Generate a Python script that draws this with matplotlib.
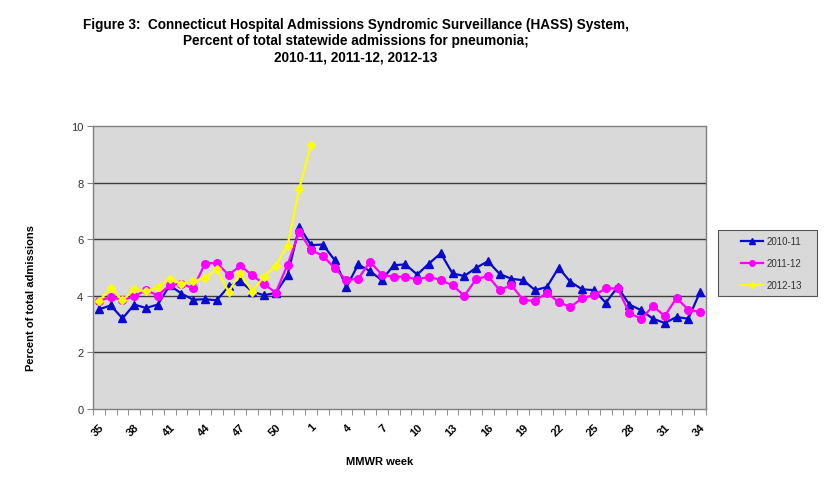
import matplotlib
matplotlib.use("Agg")
import matplotlib.pyplot as plt
from matplotlib.lines import Line2D
from matplotlib.patches import Rectangle

plt.rcParams['font.family'] = ['Liberation Sans', 'DejaVu Sans']

# MMWR weeks 35..52 then 1..34
weeks = list(range(35, 53)) + list(range(1, 35))

pct_2010_11 = [3.52, 3.66, 3.20, 3.69, 3.57, 3.69, 4.37, 4.08, 3.86, 3.88,
               3.84, 4.33, 4.52, 4.15, 4.02, 4.10, 4.73, 6.44, 5.79, 5.81,
               5.26, 4.31, 5.11, 4.87, 4.55, 5.08, 5.11, 4.75, 5.14, 5.50,
               4.79, 4.70, 4.99, 5.22, 4.77, 4.60, 4.55, 4.20, 4.31, 4.99,
               4.49, 4.23, 4.20, 3.75, 4.31, 3.69, 3.49, 3.19, 3.04, 3.25,
               3.19, 4.14]
pct_2011_12 = [3.81, 3.96, 3.85, 3.98, 4.20, 4.01, 4.37, 4.43, 4.26, 5.14,
               5.16, 4.74, 5.06, 4.73, 4.42, 4.11, 5.10, 6.26, 5.61, 5.42,
               4.97, 4.55, 4.61, 5.20, 4.75, 4.67, 4.68, 4.57, 4.68, 4.55,
               4.37, 4.00, 4.59, 4.70, 4.20, 4.38, 3.84, 3.83, 4.10, 3.78,
               3.60, 3.92, 4.02, 4.26, 4.26, 3.39, 3.19, 3.63, 3.29, 3.92,
               3.51, 3.43]
pct_2012_13 = [3.82, 4.26, 3.84, 4.23, 4.16, 4.31, 4.61, 4.43, 4.52, 4.63,
               4.94, 4.14, 4.80, 4.15, 4.68, 5.06, 5.77, 7.79, 9.34]

series_names = ['2010-11', '2011-12', '2012-13']
blue, magenta, yellow = '#0a0acc', '#ff00ff', '#ffff00'

fig = plt.figure(figsize=(8.32, 5.02), dpi=100)
ax = fig.add_axes([93 / 832, 92 / 502, 613 / 832, 283 / 502])
ax.set_facecolor('#d9d9d9')

x = list(range(len(weeks)))
ax.plot(x, pct_2010_11, color=blue, lw=1.6, marker='^', ms=5.5, zorder=3)
ax.plot(x, pct_2011_12, color=magenta, lw=1.6, marker='o', ms=5.5, zorder=4)
ax.plot(x[:len(pct_2012_13)], pct_2012_13, color=yellow, lw=1.6,
        marker='D', ms=4, zorder=5)

ax.set_xlim(-0.5, len(weeks) - 0.5)
ax.set_ylim(0, 10)
ax.set_yticks([0, 2, 4, 6, 8, 10])
ax.set_yticklabels(['0', '2', '4', '6', '8', '10'])
for v in [2, 4, 6, 8]:
    ax.axhline(v, color='#3c3c3c', lw=1, zorder=1)

# ticks at category boundaries, labels every 3 weeks
ax.set_xticks([i - 0.5 for i in range(len(weeks) + 1)], minor=True)
ax.set_xticks(x[::3])
ax.set_xticklabels([str(w) for w in weeks[::3]], rotation=45,
                   ha='right', va='top', rotation_mode='anchor',
                   fontsize=8, fontweight='bold')
ax.tick_params(axis='x', which='major', length=0, pad=9)
ax.tick_params(axis='x', which='minor', length=4, color='#808080')
ax.tick_params(axis='y', length=4, color='#808080', labelsize=8,
               labelcolor='#333333', pad=3)

for s in ax.spines.values():
    s.set_color('#808080')
    s.set_linewidth(1)

fig.text(380 / 832, 1 - 462 / 502, 'MMWR week',
         ha='center', va='center', fontsize=8, fontweight='bold')
fig.text(31 / 832, 1 - 298 / 502, 'Percent of total admissions',
         ha='center', va='center', rotation=90, fontsize=8, fontweight='bold')

title = ('Figure 3:  Connecticut Hospital Admissions Syndromic Surveillance (HASS) System,\n'
         'Percent of total statewide admissions for pneumonia;\n'
         '2010-11, 2011-12, 2012-13')
fig.text(356 / 832, 1 - 18 / 502, title, ha='center', va='top',
         fontsize=9.8, fontweight='bold', linespacing=1.22)

# legend box
fig.patches.append(Rectangle((718 / 832, 1 - 297 / 502), 99 / 832, 66 / 502,
                             transform=fig.transFigure, facecolor='#d9d9d9',
                             edgecolor='#555555', lw=0.8, zorder=0))
handles = [
    Line2D([], [], color=blue, lw=1.6, marker='^', ms=4),
    Line2D([], [], color=magenta, lw=1.6, marker='o', ms=4),
    Line2D([], [], color=yellow, lw=1.6, marker='D', ms=3),
]
leg = fig.legend(handles, series_names,
                 loc='upper left', bbox_to_anchor=(741 / 832, 1 - 237 / 502),
                 fontsize=7, frameon=False, handlelength=2.3,
                 labelspacing=1.25, borderpad=0, handletextpad=0.3,
                 borderaxespad=0)
for t in leg.get_texts():
    t.set_color('#333333')

fig.savefig('out.png', dpi=100)
